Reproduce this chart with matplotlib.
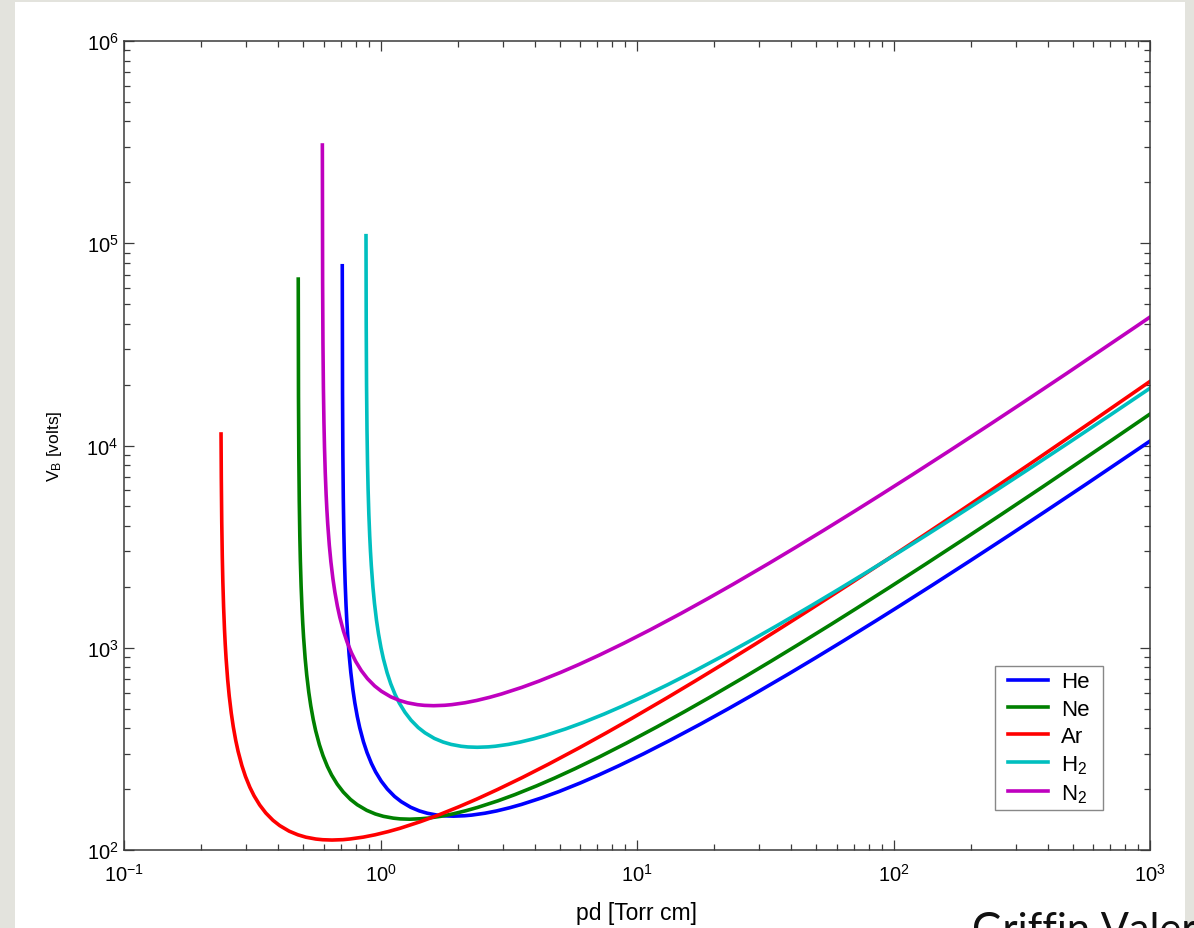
import matplotlib
matplotlib.use('Agg')
import matplotlib.pyplot as plt
from matplotlib.patches import Rectangle

plt.rcParams['font.family'] = ['Liberation Sans', 'DejaVu Sans']
plt.rcParams['mathtext.fontset'] = 'custom'
plt.rcParams['mathtext.rm'] = 'Liberation Sans'
plt.rcParams['mathtext.it'] = 'Liberation Sans:italic'
plt.rcParams['mathtext.bf'] = 'Liberation Sans:bold'
plt.rcParams['axes.unicode_minus'] = False

# breakdown voltage curves (pd in Torr cm, V_B in volts)
he_pd = [0.7095, 0.71113, 0.71325, 0.71609, 0.71964, 0.72318, 0.72814, 0.73382, 0.73878, 0.74445,
         0.75509, 0.76572, 0.7799, 0.79408, 0.81181, 0.82953, 0.85789, 0.88625, 0.9217, 0.95715,
         1.0068, 1.0635, 1.1344, 1.2053, 1.3117, 1.418, 1.5244, 1.6662, 1.7725, 1.9271,
         2.127, 2.2688, 2.5524, 2.836, 3.1905, 3.545, 4.254, 4.963, 6.0265, 7.09,
         8.508, 10.635, 13.471, 17.725, 22.688, 28.36, 38.995, 49.63, 63.81, 85.08,
         106.35, 141.8, 198.52, 283.6, 389.95, 567.2, 1000]
he_vb = [77400, 18110, 9095, 5489, 3687, 2786, 2085, 1627, 1370, 1164,
         914.5, 758.8, 624.2, 534.5, 457.3, 402.9, 343.2, 303.0, 268.0, 243.3,
         219.0, 200.1, 184.0, 173.3, 162.6, 156.0, 151.9, 148.7, 147.5, 147.0,
         147.7, 148.8, 152.0, 156.0, 161.8, 168.0, 181.1, 194.5, 214.8, 234.9,
         261.2, 299.5, 349.0, 420.0, 499.3, 586.4, 742.2, 891.0, 1081.6, 1355.5,
         1618.9, 2041, 2687, 3610, 4714, 6472, 10518]

ne_pd = [0.47788, 0.47893, 0.48037, 0.48228, 0.48466, 0.48705, 0.49039, 0.49421, 0.49756, 0.50138,
         0.50854, 0.5157, 0.52525, 0.5348, 0.54674, 0.55868, 0.57778, 0.59688, 0.62075, 0.64463,
         0.67805, 0.71625, 0.764, 0.81175, 0.88338, 0.955, 1.0266, 1.1221, 1.1938, 1.2979,
         1.4325, 1.528, 1.719, 1.91, 2.1488, 2.3875, 2.865, 3.3425, 4.0588, 4.775,
         5.73, 7.1625, 9.0725, 11.938, 15.28, 19.1, 26.263, 33.425, 42.975, 57.3,
         71.625, 95.5, 133.7, 191, 262.63, 382, 716.25, 1000]
ne_vb = [66500, 17494, 8786, 5302, 3561, 2691, 2014, 1572, 1323, 1124,
         883.4, 733.0, 602.9, 516.3, 441.8, 389.2, 331.6, 292.7, 258.9, 235.0,
         211.6, 193.3, 177.8, 167.4, 157.1, 150.7, 146.7, 143.7, 142.5, 142.0,
         142.7, 143.7, 146.8, 150.7, 156.3, 162.3, 174.9, 187.9, 207.5, 226.9,
         252.3, 289.4, 337.1, 405.7, 482.3, 566.4, 717.0, 860.7, 1044.8, 1309,
         1563.8, 1972, 2596, 3488, 4553, 6252, 10715, 14306]

ar_pd = [0.23896, 0.23953, 0.24048, 0.24167, 0.24286, 0.24453, 0.24643, 0.2481, 0.25001,
         0.25358, 0.25715, 0.26191, 0.26667, 0.27262, 0.27858, 0.2881, 0.29763, 0.30953, 0.32144,
         0.3381, 0.35715, 0.38096, 0.40477, 0.44049, 0.4762, 0.51192, 0.55954, 0.59525, 0.64716,
         0.7143, 0.76192, 0.85716, 0.9524, 1.0715, 1.1905, 1.4286, 1.6667, 2.0239, 2.381,
         2.8572, 3.5715, 4.5239, 5.9525, 7.6192, 9.524, 13.096, 16.667, 21.429, 28.572,
         35.715, 47.62, 66.668, 95.24, 130.96, 190.48, 357.15, 595.25, 1000]
ar_vb = [11400, 6929, 4182, 2809, 2122, 1588, 1240, 1043.5, 886.7,
         696.8, 578.1, 475.6, 407.2, 348.4, 307.0, 261.5, 230.8, 204.2, 185.4,
         166.9, 152.4, 140.2, 132.0, 123.9, 118.9, 115.7, 113.3, 112.4, 112.0,
         112.5, 113.4, 115.8, 118.9, 123.3, 128.0, 138.0, 148.2, 163.7, 178.9,
         199.0, 228.2, 265.9, 320.0, 380.4, 446.8, 565.5, 678.9, 824.1, 1032.8,
         1233.5, 1555, 2047, 2751, 3591, 4931, 8451, 13166, 20742]

h2_pd = [0.87795, 0.87963, 0.88226, 0.88577, 0.89016, 0.89454, 0.90068, 0.9077, 0.91383, 0.92085,
         0.93401, 0.94716, 0.9647, 0.98224, 1.0042, 1.0261, 1.0612, 1.0963, 1.1401, 1.184,
         1.2453, 1.3155, 1.4032, 1.4909, 1.6225, 1.754, 1.8856, 2.061, 2.1925, 2.3837,
         2.631, 2.8064, 3.1572, 3.508, 3.9465, 4.385, 5.262, 6.139, 7.4545, 8.77,
         10.524, 13.155, 16.663, 21.925, 28.064, 35.08, 48.235, 61.39, 78.93, 105.24,
         131.55, 175.4, 245.56, 350.8, 482.35, 701.6, 1000]
h2_vb = [109000, 39670, 19922, 12023, 8076, 6102, 4566, 3565, 3000, 2549,
         2003, 1662, 1367, 1171, 1001.7, 882.6, 751.9, 663.6, 587.0, 532.9,
         479.8, 438.2, 403.1, 379.6, 356.1, 341.8, 332.7, 325.8, 323.2, 322.0,
         323.5, 325.9, 332.9, 341.8, 354.4, 368.0, 396.7, 426.1, 470.5, 514.5,
         572.1, 656.1, 764.4, 920.0, 1093.8, 1284.5, 1625.8, 1951.8, 2369, 2969,
         3546, 4472, 5886, 7908, 10325, 14177, 19190]

n2_pd = [0.59337, 0.59478, 0.59656, 0.59893, 0.6019, 0.60486, 0.609, 0.61376, 0.61791, 0.62265,
         0.63155, 0.64044, 0.6523, 0.66416, 0.67899, 0.69381, 0.71753, 0.74125, 0.7709, 0.80055,
         0.84206, 0.8895, 0.9488, 1.0081, 1.0971, 1.186, 1.275, 1.3936, 1.4825, 1.6118,
         1.779, 1.8976, 2.1348, 2.372, 2.6685, 2.965, 3.558, 4.151, 5.0405, 5.93,
         7.116, 8.895, 11.267, 14.825, 18.976, 23.72, 32.615, 41.51, 53.37, 71.16,
         88.95, 118.6, 166.04, 237.2, 326.15, 474.4, 889.5, 1000]
n2_vb = [306000, 63694, 31987, 19305, 12966, 9797, 7331, 5723, 4817, 4093,
         3216, 2669, 2195, 1880, 1608, 1417, 1207, 1065.5, 942.5, 855.6,
         770.3, 703.6, 647.3, 609.5, 571.8, 548.8, 534.2, 523.1, 518.9, 517.0,
         519.4, 523.3, 534.5, 548.8, 569.1, 590.9, 636.9, 684.2, 755.4, 826.0,
         918.5, 1053.5, 1227.3, 1477, 1756, 2062, 2610, 3134, 3804, 4767,
         5694, 7180, 9451, 12698, 16578, 22762, 39010, 43164]

gases = ['He', 'Ne', 'Ar', 'H$_2$', 'N$_2$']
colors = ['b', 'g', 'r', 'c', 'm']
curves = [(he_pd, he_vb), (ne_pd, ne_vb), (ar_pd, ar_vb), (h2_pd, h2_vb), (n2_pd, n2_vb)]

W, H = 1194, 929
fig = plt.figure(figsize=(W / 100, H / 100), dpi=100, facecolor='#e3e3dd')
fig.patches.append(Rectangle((15 / W, 0), 1170 / W, 926 / H, transform=fig.transFigure,
                             facecolor='white', edgecolor='none', zorder=-10))
ax = fig.add_axes([124 / W, 1 - 851 / H, 1026 / W, 809 / H])
ax.set_facecolor('white')

for (pd_, vb), name, c in zip(curves, gases, colors):
    ax.plot(pd_, vb, color=c, lw=2.6, label=name)

ax.set_xscale('log')
ax.set_yscale('log')
ax.set_xlim(0.1, 1000)
ax.set_ylim(100, 1e6)
ax.set_xlabel('pd [Torr cm]', fontsize=16.5, labelpad=12)
ax.set_ylabel('V$_\\mathrm{B}$ [volts]', fontsize=12.5, labelpad=16)

for s in ax.spines.values():
    s.set_color('#3a3a3a')
    s.set_linewidth(1.1)
ax.tick_params(which='both', direction='in', top=True, right=True, color='#3a3a3a')
ax.tick_params(which='major', length=7, width=0.9, labelsize=14.5)
ax.tick_params(which='minor', length=4.5, width=0.9)
ax.tick_params(axis='x', pad=9)
ax.tick_params(axis='y', pad=4)

# legend box (wider than tall padding, so the frame is drawn separately)
box = Rectangle((0.849, 0.0494), 0.105, 0.178, transform=ax.transAxes, facecolor='white',
                edgecolor='#888888', linewidth=1.0, zorder=4)
ax.add_patch(box)
leg = ax.legend(loc='center', bbox_to_anchor=(0.9015, 0.1384), frameon=False, fontsize=16,
                handlelength=1.8, labelspacing=0.28, borderpad=0.2, handletextpad=0.6)
leg.set_zorder(5)

fig.text(972 / W, -14 / H, 'Griffin Valer', fontsize=30, family=['Lato', 'DejaVu Sans'],
         va='baseline', ha='left', color='#111111')

fig.savefig('out.png', dpi=100, facecolor=fig.get_facecolor())
